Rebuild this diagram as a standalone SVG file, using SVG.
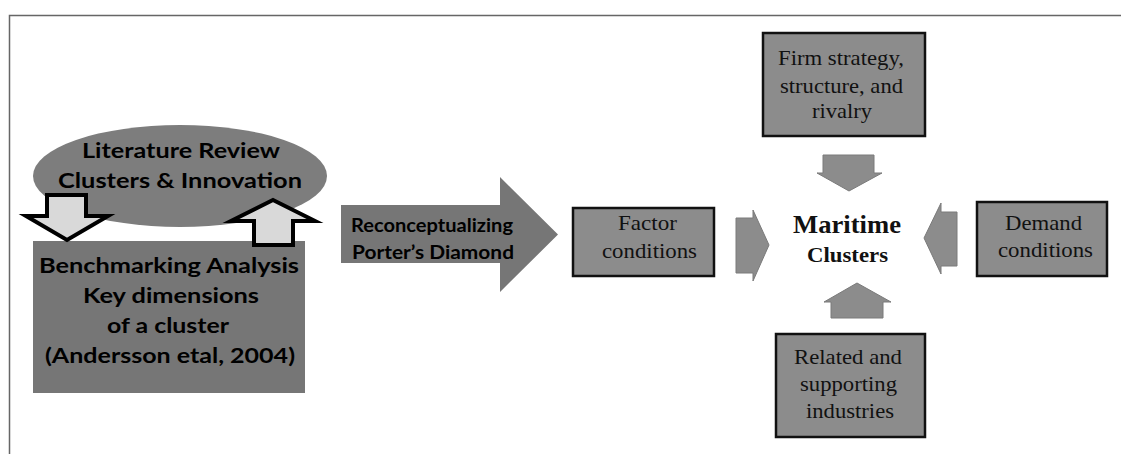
<svg xmlns="http://www.w3.org/2000/svg" width="1121" height="454" viewBox="0 0 1121 454">
<style>
.sans{font-family:Lato,"Open Sans","Liberation Sans",sans-serif;font-weight:bold;fill:#000}
.serif{font-family:"Liberation Serif","Times New Roman",serif;fill:#111}
.box{fill:#8c8c8c;stroke:#111;stroke-width:2.5}
.dark{fill:#767676}
.outl{fill:#d9d9d9;stroke:#000;stroke-width:4;stroke-linejoin:miter;stroke-miterlimit:10}
.sm{fill:#8c8c8c;stroke:#7a7a7a;stroke-width:1}
</style>
<rect width="1121" height="454" fill="#fff"/>
<path d="M9.5 454 V15.5 H1121" fill="none" stroke="#666" stroke-width="1.5"/>

<g id="literature">
<ellipse cx="180" cy="176" rx="147" ry="51" fill="#7d7d7d"/>
<text class="sans" font-size="21" text-anchor="middle"><tspan x="181" y="158" textLength="198" lengthAdjust="spacingAndGlyphs">Literature Review</tspan><tspan x="180" y="188" textLength="244" lengthAdjust="spacingAndGlyphs">Clusters &amp; Innovation</tspan></text>
</g>

<g id="benchmarking">
<rect class="dark" x="33" y="241" width="272" height="152"/>
<text class="sans" font-size="21" text-anchor="middle"><tspan x="169" y="273" textLength="260" lengthAdjust="spacingAndGlyphs">Benchmarking Analysis</tspan><tspan x="171" y="303" textLength="176" lengthAdjust="spacingAndGlyphs">Key dimensions</tspan><tspan x="168" y="333" textLength="122" lengthAdjust="spacingAndGlyphs">of a cluster</tspan><tspan x="170" y="363" textLength="250" lengthAdjust="spacingAndGlyphs">(Andersson etal, 2004)</tspan></text>
</g>

<g id="reconceptualizing">
<polygon class="dark" fill="#727272" points="341,205 500,205 500,177 558,234.5 500,292 500,263 341,263"/>
<text class="sans" font-size="18"><tspan x="351" y="232" textLength="162" lengthAdjust="spacingAndGlyphs">Reconceptualizing</tspan><tspan x="352" y="259" textLength="162" lengthAdjust="spacingAndGlyphs">Porter’s  Diamond</tspan></text>
</g>

<g id="factor">
<rect class="box" x="573" y="208" width="141" height="68"/>
<text class="serif" font-size="22" text-anchor="middle"><tspan x="647.5" y="230" textLength="59" lengthAdjust="spacingAndGlyphs">Factor</tspan><tspan x="649.5" y="258" textLength="95" lengthAdjust="spacingAndGlyphs">conditions</tspan></text>
</g>

<g id="firm">
<rect class="box" x="763" y="33" width="162" height="103"/>
<text class="serif" font-size="22" text-anchor="middle"><tspan x="841" y="65" textLength="126" lengthAdjust="spacingAndGlyphs">Firm strategy,</tspan><tspan x="841.5" y="93" textLength="123" lengthAdjust="spacingAndGlyphs">structure, and</tspan><tspan x="842" y="118" textLength="60" lengthAdjust="spacingAndGlyphs">rivalry</tspan></text>
</g>

<g id="demand">
<rect class="box" x="977" y="202" width="130" height="74"/>
<text class="serif" font-size="22" text-anchor="middle"><tspan x="1043.5" y="230" textLength="77" lengthAdjust="spacingAndGlyphs">Demand</tspan><tspan x="1045.5" y="257" textLength="95" lengthAdjust="spacingAndGlyphs">conditions</tspan></text>
</g>

<g id="related">
<rect class="box" x="776" y="334" width="149" height="103"/>
<text class="serif" font-size="22" text-anchor="middle"><tspan x="848" y="364" textLength="108" lengthAdjust="spacingAndGlyphs">Related and</tspan><tspan x="848.5" y="391" textLength="97" lengthAdjust="spacingAndGlyphs">supporting</tspan><tspan x="850" y="418" textLength="88" lengthAdjust="spacingAndGlyphs">industries</tspan></text>
</g>

<g id="maritime">
<text class="serif" font-weight="bold" text-anchor="middle" fill="#000"><tspan x="847" y="233" font-size="26" textLength="108" lengthAdjust="spacingAndGlyphs">Maritime</tspan><tspan x="847.5" y="262" font-size="22" textLength="81" lengthAdjust="spacingAndGlyphs">Clusters</tspan></text>
</g>

<g id="connectors">
<polygon class="outl" points="47,195 86,195 86,216 108,216 67,240 26,216 47,216"/>
<polygon class="outl" points="273,200 315,221 293,221 293,245 254,245 254,221 231,221"/>
<polygon class="sm" points="823,155 874,155 874,173 882,173 849,191 817,173 823,173"/>
<polygon class="sm" points="736,218 753,218 753,210 769,245 753,281 753,273 736,273"/>
<polygon class="sm" points="957,212 941,212 941,203 924,238 941,274 941,266 957,266"/>
<polygon class="sm" points="857,283 891,302 883,302 883,318 831,318 831,302 824,302"/>
</g>
</svg>
